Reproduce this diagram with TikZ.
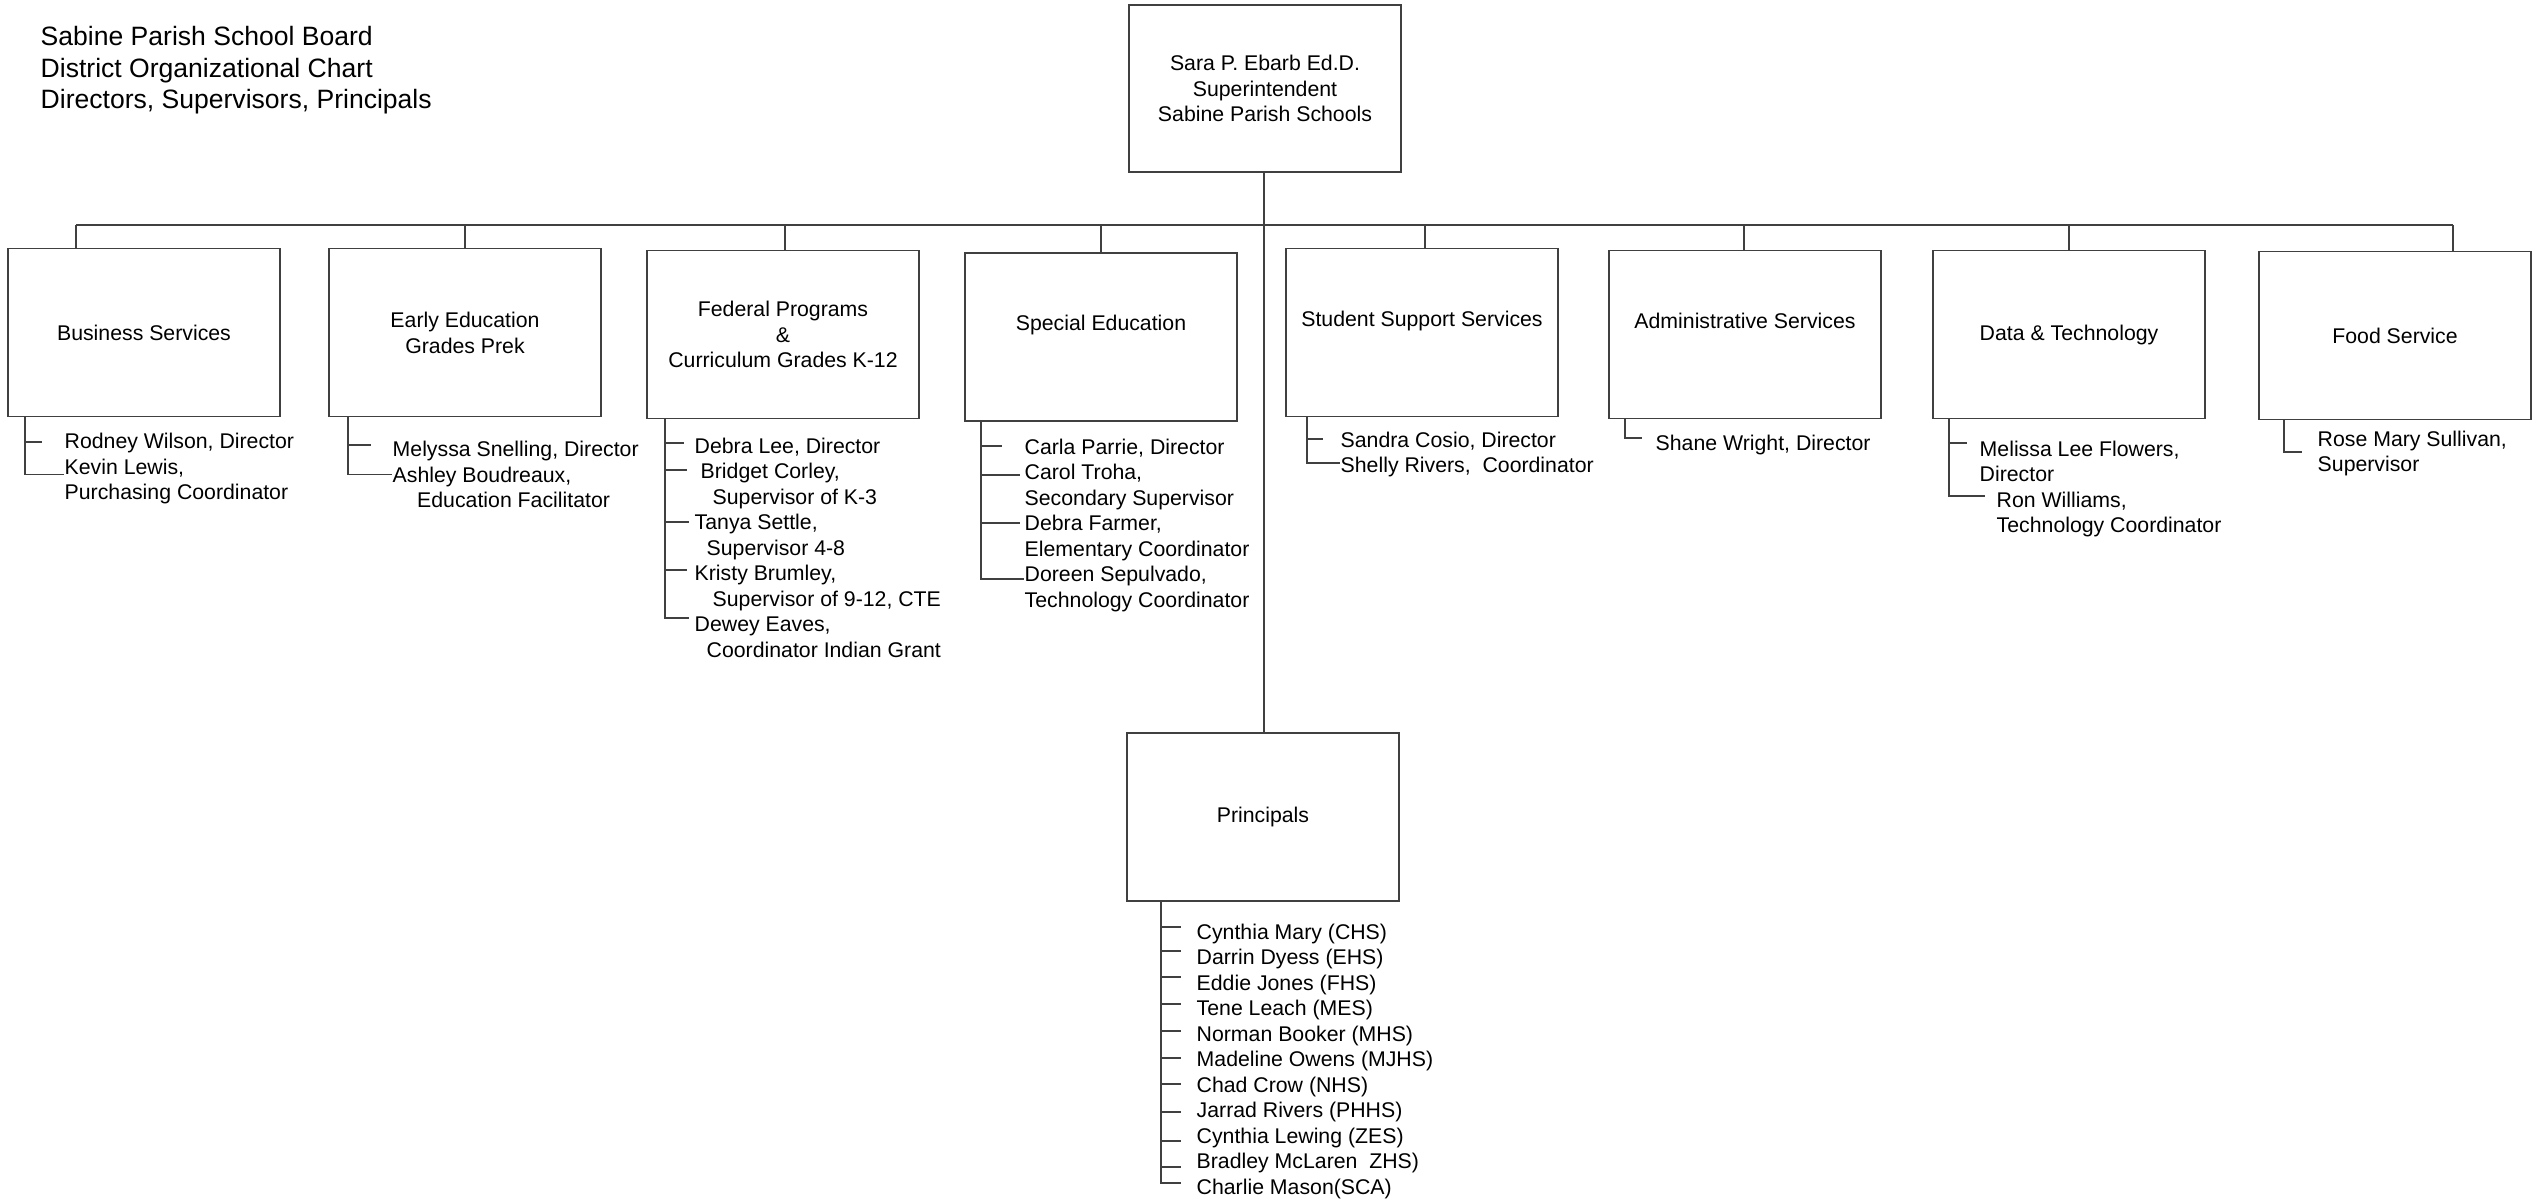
\documentclass[tikz,border=0pt]{standalone}
\usepackage{fontspec}
\setmainfont{Liberation Sans}

\begin{document}
\begin{tikzpicture}[x=0.01cm,y=-0.01cm]
\tikzset{
  unit/.style={draw=black!75, line width=0.4pt, minimum width=2.72cm, minimum height=1.68cm, inner sep=0pt, font=\fontsize{6.05pt}{7.35pt}\selectfont, align=center},
  txt/.style={font=\fontsize{6.05pt}{7.35pt}\selectfont, align=center, inner sep=0pt},
  names/.style={font=\fontsize{6.05pt}{7.25pt}\selectfont, align=left, anchor=north west, inner sep=0pt},
  link/.style={draw=black!75, line width=0.4pt}
}
\useasboundingbox (0,0) rectangle (2542,1200);

\node[names, font=\fontsize{7.55pt}{8.95pt}\selectfont] (title) at (40,26) {Sabine Parish School Board\\District Organizational Chart\\Directors, Supervisors, Principals};

\node[unit, minimum height=1.67cm] (supt) at (1265,88.5) {Sara P. Ebarb Ed.D.\\Superintendent\\Sabine Parish Schools};
\node[unit] (busi) at (144,332.5) {Business Services};
\node[unit] (early) at (465,332.5) {Early Education\\Grades Prek};
\node[unit] (fed) at (783,334.5) {Federal Programs\\\&\\Curriculum Grades K-12};
\node[unit] (spec) at (1101,337) {};
\node[txt] (spec-t) at (1101,325) {Special Education};
\node[unit] (stud) at (1422,332.5) {};
\node[txt] (stud-t) at (1422,321) {Student Support Services};
\node[unit] (admin) at (1745,334.5) {};
\node[txt] (admin-t) at (1745,321) {Administrative Services};
\node[unit] (data) at (2069,334.5) {Data \& Technology};
\node[unit] (food) at (2395,335.5) {Food Service};
\node[unit] (prin) at (1263,817) {Principals};

\coordinate (bus) at (1264,225);
\draw[link] (supt.south -| bus) -- (prin.north -| bus);
\draw[link] (bus -| 76,0) -- (bus -| 2453,0);
\foreach \b/\x in {busi/76,early/465,fed/785,spec/1101,stud/1425,admin/1744,data/2069,food/2453}
  \draw[link] (bus -| \x,0) -- (\b.north -| \x,0);

\node[names] (busi-l) at (64,432.5) {Rodney Wilson, Director\\Kevin Lewis,\\Purchasing Coordinator};
\draw[link] (busi.south -| 25,0) |- (busi-l.west |- 0,474.5);
\draw[link] (25,442) -- (42,442);

\node[names] (early-l) at (392,440.5) {Melyssa Snelling, Director\\Ashley Boudreaux,\\\hspace*{0.245cm}Education Facilitator};
\draw[link] (early.south -| 348,0) |- (early-l.west |- 0,474.5);
\draw[link] (348,445) -- (371,445);

\node[names] (fed-l) at (694,437) {Debra Lee, Director\\\hspace*{0.06cm}Bridget Corley,\\\hspace*{0.18cm}Supervisor of K-3\\Tanya Settle,\\\hspace*{0.12cm}Supervisor 4-8\\Kristy Brumley,\\\hspace*{0.18cm}Supervisor of 9-12, CTE\\Dewey Eaves,\\\hspace*{0.12cm}Coordinator Indian Grant};
\draw[link] (fed.south -| 665,0) |- (689,618);
\foreach \y/\e in {443/684,470/687,522/689,570/687}
  \draw[link] (665,\y) -- (\e,\y);

\node[names] (spec-l) at (1024,438) {Carla Parrie, Director\\Carol Troha,\\Secondary Supervisor\\Debra Farmer,\\Elementary Coordinator\\Doreen Sepulvado,\\Technology Coordinator};
\draw[link] (spec.south -| 981,0) |- (spec-l.west |- 0,579);
\foreach \y/\e in {446/1002,475/1020,523/1020}
  \draw[link] (981,\y) -- (\e,\y);

\node[names] (stud-l) at (1340,431) {Sandra Cosio, Director\\Shelly Rivers,\ \ Coordinator};
\draw[link] (stud.south -| 1307,0) |- (stud-l.west |- 0,463);
\draw[link] (1307,439) -- (1323,439);

\node[names] (admin-l) at (1655,434) {Shane Wright, Director};
\draw[link] (admin.south -| 1625,0) |- (1642,438);

\node[names] (data-l) at (1979,440) {Melissa Lee Flowers,\\Director\\\hspace*{0.17cm}Ron Williams,\\\hspace*{0.17cm}Technology Coordinator};
\draw[link] (data.south -| 1949,0) |- (1985,496);
\draw[link] (1949,443) -- (1967,443);

\node[names] (food-l) at (2317,430) {Rose Mary Sullivan,\\Supervisor};
\draw[link] (food.south -| 2284,0) |- (2302,452);

\node[names] (prin-l) at (1196,923) {Cynthia Mary (CHS)\\Darrin Dyess (EHS)\\Eddie Jones (FHS)\\Tene Leach (MES)\\Norman Booker (MHS)\\Madeline Owens (MJHS)\\Chad Crow (NHS)\\Jarrad Rivers (PHHS)\\Cynthia Lewing (ZES)\\Bradley McLaren\ \ ZHS)\\Charlie Mason(SCA)};
\draw[link] (prin.south -| 1161,0) |- (1181,1183);
\foreach \y in {927,951,977,1004,1031,1058,1084,1112,1141,1167}
  \draw[link] (1161,\y) -- (1181,\y);
\end{tikzpicture}
\end{document}
